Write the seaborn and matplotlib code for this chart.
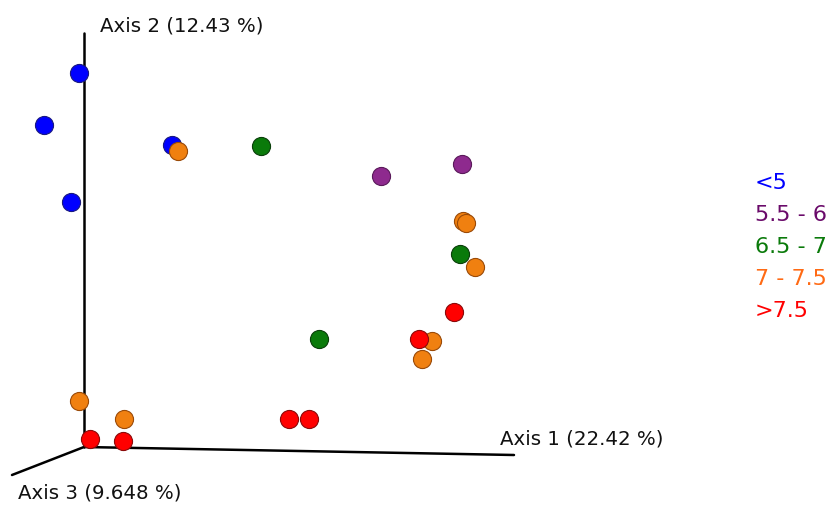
import matplotlib
matplotlib.use("Agg")
import matplotlib.pyplot as plt
import seaborn as sns
import pandas as pd

# projected coordinates of each sample (screen space of the 3D view)
proj_x = [79, 44, 172, 71,
          178, 463, 466, 475, 79, 124, 432, 422,
          261, 460, 319,
          381, 462,
          454, 419, 90, 123, 289, 309]
proj_y = [73, 125, 145, 202,
          151, 221, 223, 267, 401, 419, 341, 359,
          146, 254, 339,
          176, 164,
          312, 339, 439, 441, 419, 419]
groups = (["<5"] * 4 + ["7 - 7.5"] * 8 + ["6.5 - 7"] * 3
          + ["5.5 - 6"] * 2 + [">7.5"] * 6)

legend_labels = ["<5", "5.5 - 6", "6.5 - 7", "7 - 7.5", ">7.5"]
point_colors = ["#0000ff", "#8e2a8e", "#0a7a0a", "#f08010", "#ff0000"]
edge_colors = ["#1a1a80", "#5a1a5a", "#0a3f0a", "#9a4a08", "#8a0a0a"]
text_colors = ["#0000ff", "#6a0a6a", "#0a7a0a", "#ff6a14", "#ff0000"]

axis_labels = ["Axis 1 (22.42 %)", "Axis 2 (12.43 %)", "Axis 3 (9.648 %)"]

df = pd.DataFrame({"x": proj_x, "y": proj_y, "group": groups})

sns.set_style("white")
fig = plt.figure(figsize=(8.31, 5.05), dpi=100)
ax = fig.add_axes([0, 0, 1, 1])
ax.set_xlim(0, 831)
ax.set_ylim(505, 0)
ax.axis("off")

# axes of the 3D plot
origin = (84, 447)
ax.plot([origin[0], 84], [origin[1], 33], color="black", lw=1.8, zorder=1)
ax.plot([origin[0], 514], [origin[1], 455], color="black", lw=1.8, zorder=1)
ax.plot([origin[0], 12], [origin[1], 475], color="black", lw=1.8, zorder=1)

ax.text(500, 439, axis_labels[0], fontsize=14.2, va="center", ha="left", color="#111111")
ax.text(100, 26, axis_labels[1], fontsize=14.2, va="center", ha="left", color="#111111")
ax.text(18, 493, axis_labels[2], fontsize=14.2, va="center", ha="left", color="#111111")

for i, lab in enumerate(legend_labels):
    sub = df[df["group"] == lab]
    sns.scatterplot(data=sub, x="x", y="y", ax=ax, s=170, color=point_colors[i],
                    edgecolor=edge_colors[i], linewidth=0.8, zorder=3, legend=False)
    ax.text(755, 183 + 32 * i, lab, color=text_colors[i], fontsize=16,
            va="center", ha="left")

fig.savefig("out.png", dpi=100)
